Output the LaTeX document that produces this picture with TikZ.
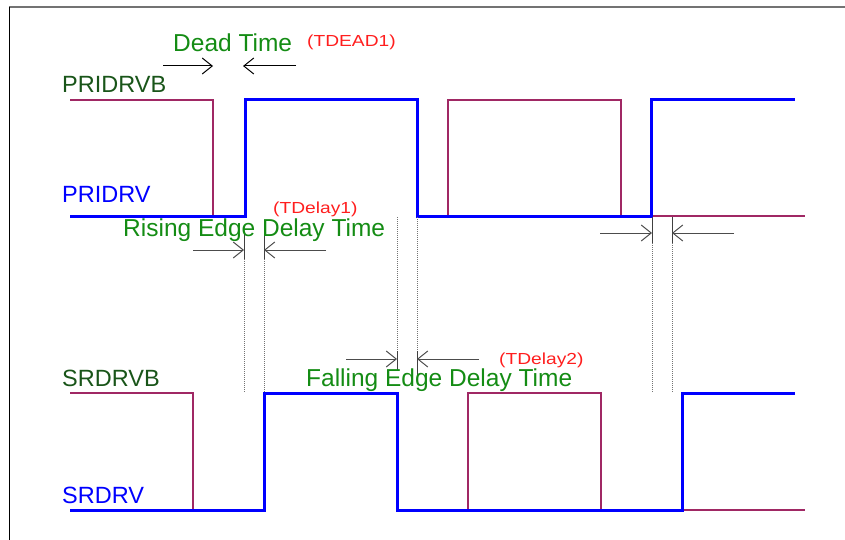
\documentclass[tikz,border=0pt]{standalone}
\usepackage{fontspec}
\setmainfont{Liberation Sans}
\usepackage{graphicx}
\usetikzlibrary{arrows.meta}
\definecolor{sigblue}{RGB}{0,0,255}
\definecolor{sigpurple}{RGB}{160,40,100}
\definecolor{lblgreen}{RGB}{20,140,20}
\definecolor{namegreen}{RGB}{25,85,25}
\definecolor{tagred}{RGB}{255,30,30}
\def\gaparrows[#1](#2:#3:#4:#5:#6){\draw[#1] (#2, #6) -- (#3, #6); \draw[#1] (#5, #6) -- (#4, #6);}
\tikzset{
	drv/.style={line width=3pt, color=sigblue},
	drvb/.style={line width=1.2pt, color=sigpurple},
	guide/.style={line width=0.8pt, color=black!55, dash pattern=on 1pt off 1pt},
	edgetick/.style={line width=1pt, color=black!75},
	gaparrow/.style={line width=1pt, color=black!70, -{Straight Barb[length=10pt, width=16pt]}},
	signame/.style={anchor=base west, inner sep=0pt, font=\fontsize{23.5}{28}\selectfont},
	delaylbl/.style={anchor=base west, inner sep=0pt, text=lblgreen, font=\fontsize{24.5}{29}\selectfont},
	tagtxt/.style={anchor=base west, inner sep=0pt, text=tagred, font=\fontsize{16}{19}\selectfont}
}
\begin{document}
\begin{tikzpicture}[x=1pt, y=-1pt]
			%%%%% START %%%%%
			\useasboundingbox (0, 0) rectangle (845, 540);
			
			\draw[line width=1.5pt, color=black!55] (9, 7) -- (845, 7);
			\draw[line width=1pt] (9, 7) -- (9, 540);
			
			%%%%% PRIDRVB / PRIDRV %%%%%
			\draw[drvb] (70, 100) -- (213, 100) -- (213, 216);
			\draw[drvb] (448, 216) -- (448, 100) -- (621, 100) -- (621, 216);
			\draw[drvb] (651, 216) -- (805, 216);
			\draw[drv] (70, 216) -- (245, 216) -- (245, 100) -- (417, 100) -- (417, 216) -- (651, 216) -- (651, 100) -- (795, 100);
			
			%%%%% SRDRVB / SRDRV %%%%%
			\draw[drvb] (70, 393) -- (193, 393) -- (193, 510);
			\draw[drvb] (468, 510) -- (468, 393) -- (601, 393) -- (601, 510);
			\draw[drvb] (682, 510) -- (805, 510);
			\draw[drv] (70, 510) -- (264, 510) -- (264, 393) -- (397, 393) -- (397, 510) -- (682, 510) -- (682, 393) -- (795, 393);
			
			%%%%% dead time %%%%%
			\gaparrows[gaparrow, color=black](163:213:243:296:66)
			
			%%%%% rising edge delay %%%%%
			\draw[edgetick] (244, 233) -- (244, 259);
			\draw[guide] (244, 259) -- (244, 392);
			\draw[edgetick] (264, 233) -- (264, 259);
			\draw[guide] (264, 259) -- (264, 392);
			\gaparrows[gaparrow](193:244:264:326:250)
			
			%%%%% falling edge delay %%%%%
			\draw[guide] (397, 217) -- (397, 351);
			\draw[edgetick] (397, 351) -- (397, 370);
			\draw[guide] (417, 217) -- (417, 351);
			\draw[edgetick] (417, 351) -- (417, 375);
			\gaparrows[gaparrow](346:397:417:479:359)
			
			\draw[edgetick] (652, 217) -- (652, 243);
			\draw[guide] (652, 243) -- (652, 392);
			\draw[edgetick] (672, 217) -- (672, 243);
			\draw[guide] (672, 243) -- (672, 392);
			\gaparrows[gaparrow](600:652:672:734:233)
			
			%%%%% labels %%%%%
			\node[signame, text=namegreen] (pridrvb) at (62, 93) {PRIDRVB};
			\node[signame, text=sigblue] (pridrv) at (62, 202) {PRIDRV};
			\node[signame, text=namegreen] (srdrvb) at (62, 386) {SRDRVB};
			\node[signame, text=sigblue] (srdrv) at (62, 503) {SRDRV};
			
			\node[delaylbl] (deadtime) at (173, 52) {Dead Time};
			\node[tagtxt] (tdead) at (307, 47) {\scalebox{1.2}[1]{(TDEAD1)}};
			\node[delaylbl] (risedelay) at (123, 236) {Rising Edge Delay Time};
			\node[tagtxt] (tdelayone) at (273, 213) {\scalebox{1.2}[1]{(TDelay1)}};
			\node[delaylbl] (falldelay) at (306, 386) {Falling Edge Delay Time};
			\node[tagtxt] (tdelaytwo) at (499, 364) {\scalebox{1.2}[1]{(TDelay2)}};
			
			%%%%% END %%%%%
\end{tikzpicture}
\end{document}
